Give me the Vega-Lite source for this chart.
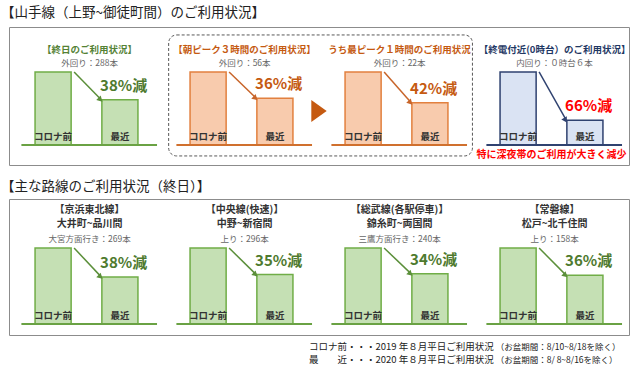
{
  "$schema": "https://vega.github.io/schema/vega-lite/v6.json",
  "background": "white",
  "padding": {"left": 0, "top": 5, "right": 6, "bottom": 2},
  "spacing": 13,
  "config": {
    "font": "Noto Sans CJK JP",
    "view": {"stroke": "#8c8c8c", "strokeWidth": 1},
    "title": {"font": "Noto Sans CJK JP"}
  },
  "datasets": {
    "topBars": [
      {"panel": "p1", "period": "コロナ前", "value": 100},
      {"panel": "p1", "period": "最近", "value": 62},
      {"panel": "p2", "period": "コロナ前", "value": 100},
      {"panel": "p2", "period": "最近", "value": 64},
      {"panel": "p3", "period": "コロナ前", "value": 100},
      {"panel": "p3", "period": "最近", "value": 58},
      {"panel": "p4", "period": "コロナ前", "value": 100},
      {"panel": "p4", "period": "最近", "value": 34}
    ],
    "topPanels": [
      {"panel": "p1", "title": "【終日のご利用状況】", "sub": "外回り：288本", "pct": "38%減", "pre": 100, "recent": 62, "note": ""},
      {"panel": "p2", "title": "【朝ピーク３時間のご利用状況】", "sub": "外回り：56本", "pct": "36%減", "pre": 100, "recent": 64, "note": ""},
      {"panel": "p3", "title": "うち最ピーク１時間のご利用状況", "sub": "外回り：22本", "pct": "42%減", "pre": 100, "recent": 58, "note": ""},
      {"panel": "p4", "title": "【終電付近(0時台）のご利用状況】", "sub": "内回り：０時台６本", "pct": "66%減", "pre": 100, "recent": 34, "note": "特に深夜帯のご利用が大きく減少"}
    ],
    "bottomBars": [
      {"panel": "q1", "period": "コロナ前", "value": 100},
      {"panel": "q1", "period": "最近", "value": 62},
      {"panel": "q2", "period": "コロナ前", "value": 100},
      {"panel": "q2", "period": "最近", "value": 65},
      {"panel": "q3", "period": "コロナ前", "value": 100},
      {"panel": "q3", "period": "最近", "value": 66},
      {"panel": "q4", "period": "コロナ前", "value": 100},
      {"panel": "q4", "period": "最近", "value": 64}
    ],
    "bottomPanels": [
      {"panel": "q1", "line1": "【京浜東北線】", "line2": "大井町~品川間", "sub": "大宮方面行き：269本", "pct": "38%減", "pre": 100, "recent": 62},
      {"panel": "q2", "line1": "【中央線(快速)】", "line2": "中野~新宿間", "sub": "上り：296本", "pct": "35%減", "pre": 100, "recent": 65},
      {"panel": "q3", "line1": "【総武線(各駅停車)】", "line2": "錦糸町~両国間", "sub": "三鷹方面行き：240本", "pct": "34%減", "pre": 100, "recent": 66},
      {"panel": "q4", "line1": "【常磐線】", "line2": "松戸~北千住間", "sub": "上り：158本", "pct": "36%減", "pre": 100, "recent": 64}
    ],
    "footer": [
      {"text": "コロナ前・・・2019 年８月平日ご利用状況\n最　　近・・・2020 年８月平日ご利用状況", "note": "（お盆期間：8/10~8/18を除く）\n（お盆期間：8/ 8~8/16を除く）"}
    ]
  },
  "vconcat": [
    {
      "width": 620,
      "height": 138,
      "title": {"text": "【山手線（上野~御徒町間）のご利用状況】", "anchor": "start", "fontSize": 13.5, "fontWeight": "normal", "color": "#222222", "offset": 8, "dx": -8},
      "layer": [
        {
          "data": {"values": [{"group": "peak"}]},
          "mark": {"type": "rect", "fill": "transparent", "stroke": "#595959", "strokeDash": [3, 2], "strokeWidth": 1, "cornerRadius": 8},
          "encoding": {
            "x": {"datum": "p2", "type": "nominal", "bandPosition": 0.03, "scale": {"domain": ["p1", "p2", "p3", "p4"], "paddingInner": 0, "paddingOuter": 0}, "axis": null},
            "x2": {"datum": "p3", "bandPosition": 0.99},
            "y": {"datum": 150.7, "type": "quantitative", "scale": {"domain": [-27.4, 161.6], "nice": false, "zero": false}, "axis": null},
            "y2": {"datum": -15}
          }
        },
        {
          "data": {"name": "topBars"},
          "mark": {"type": "bar", "strokeWidth": 1.5},
          "encoding": {
            "x": {"field": "panel", "type": "nominal"},
            "xOffset": {"field": "period", "type": "nominal", "scale": {"domain": ["コロナ前", "最近"], "paddingInner": 0.46, "paddingOuter": 0.39}},
            "y": {"field": "value", "type": "quantitative"},
            "y2": {"datum": 0},
            "fill": {"field": "panel", "type": "nominal", "scale": {"domain": ["p1", "p2", "p3", "p4"], "range": ["#c5e0b4", "#f8cbad", "#f8cbad", "#dae3f3"]}, "legend": null},
            "stroke": {"field": "panel", "type": "nominal", "scale": {"domain": ["p1", "p2", "p3", "p4"], "range": ["#70ad47", "#e2803f", "#e2803f", "#2f4270"]}, "legend": null}
          }
        },
        {
          "data": {"name": "topPanels"},
          "mark": {"type": "rule", "strokeWidth": 2},
          "encoding": {
            "x": {"field": "panel", "type": "nominal", "bandPosition": 0.08},
            "x2": {"field": "panel", "bandPosition": 0.955},
            "y": {"datum": 0, "type": "quantitative"},
            "stroke": {"field": "panel", "type": "nominal", "scale": {"domain": ["p1", "p2", "p3", "p4"], "range": ["#6aa244", "#d0702e", "#d0702e", "#2f4270"]}, "legend": null}
          }
        },
        {
          "data": {"name": "topPanels"},
          "mark": {"type": "rule", "strokeWidth": 1.5},
          "encoding": {
            "x": {"field": "panel", "type": "nominal", "bandPosition": 0.42},
            "x2": {"field": "panel", "bandPosition": 0.595},
            "y": {"field": "pre", "type": "quantitative"},
            "y2": {"field": "recent"},
            "stroke": {"field": "panel", "type": "nominal", "scale": {"domain": ["p1", "p2", "p3", "p4"], "range": ["#5b8f3a", "#c8652a", "#c8652a", "#2f4270"]}, "legend": null}
          }
        },
        {
          "data": {"name": "topPanels"},
          "mark": {"type": "point", "shape": "triangle-right", "filled": true, "opacity": 1, "size": 40},
          "encoding": {
            "x": {"field": "panel", "type": "nominal", "bandPosition": 0.59},
            "y": {"field": "recent", "type": "quantitative"},
            "angle": {"field": "recent", "type": "quantitative", "scale": {"domain": [34, 66], "range": [60, 42]}, "legend": null},
            "color": {"field": "panel", "type": "nominal", "scale": {"domain": ["p1", "p2", "p3", "p4"], "range": ["#5b8f3a", "#c8652a", "#c8652a", "#2f4270"]}, "legend": null}
          }
        },
        {
          "data": {"name": "topPanels"},
          "mark": {"type": "text", "fontSize": 15, "fontWeight": "bold", "dy": -14},
          "encoding": {
            "x": {"field": "panel", "type": "nominal", "bandPosition": 0.74},
            "y": {"field": "recent", "type": "quantitative"},
            "text": {"field": "pct"},
            "color": {"field": "panel", "type": "nominal", "scale": {"domain": ["p1", "p2", "p3", "p4"], "range": ["#4e7a2e", "#c55a11", "#c55a11", "#ff0000"]}, "legend": null}
          }
        },
        {
          "data": {"name": "topBars"},
          "mark": {"type": "text", "fontSize": 9.5, "fontWeight": "bold", "color": "#333333", "dy": -8},
          "encoding": {
            "x": {"field": "panel", "type": "nominal"},
            "xOffset": {"field": "period", "type": "nominal"},
            "y": {"datum": 0, "type": "quantitative"},
            "text": {"field": "period"}
          }
        },
        {
          "data": {"name": "topPanels"},
          "mark": {"type": "text", "fontSize": 9.5, "fontWeight": "bold"},
          "encoding": {
            "x": {"field": "panel", "type": "nominal", "bandPosition": 0.52},
            "y": {"datum": 130.5, "type": "quantitative"},
            "text": {"field": "title"},
            "color": {"field": "panel", "type": "nominal", "scale": {"domain": ["p1", "p2", "p3", "p4"], "range": ["#548235", "#c55a11", "#c55a11", "#1f3864"]}, "legend": null}
          }
        },
        {
          "data": {"name": "topPanels"},
          "mark": {"type": "text", "fontSize": 8.5, "color": "#666666"},
          "encoding": {
            "x": {"field": "panel", "type": "nominal", "bandPosition": 0.52},
            "y": {"datum": 112.5, "type": "quantitative"},
            "text": {"field": "sub"}
          }
        },
        {
          "data": {"name": "topPanels"},
          "mark": {"type": "text", "fontSize": 10, "fontWeight": "bold", "color": "#ff0000"},
          "encoding": {
            "x": {"field": "panel", "type": "nominal", "bandPosition": 0.5},
            "y": {"datum": -13.7, "type": "quantitative"},
            "text": {"field": "note"}
          }
        },
        {
          "data": {"values": [{"marker": "next"}]},
          "mark": {"type": "point", "shape": "M-0.7,-1L0.7,0L-0.7,1Z", "filled": true, "opacity": 1, "size": 484, "color": "#c55a11"},
          "encoding": {
            "x": {"datum": "p3", "type": "nominal", "bandPosition": 0},
            "y": {"datum": 46.6, "type": "quantitative"}
          }
        }
      ],
      "resolve": {"scale": {"fill": "independent", "stroke": "independent", "color": "independent", "angle": "independent"}}
    },
    {
      "width": 620,
      "height": 136,
      "title": {"text": "【主な路線のご利用状況（終日）】", "anchor": "start", "fontSize": 13.5, "fontWeight": "normal", "color": "#222222", "offset": 6, "dx": -8},
      "layer": [
        {
          "data": {"name": "bottomBars"},
          "mark": {"type": "bar", "strokeWidth": 1.5, "fill": "#c5e0b4", "stroke": "#70ad47"},
          "encoding": {
            "x": {"field": "panel", "type": "nominal", "scale": {"domain": ["q1", "q2", "q3", "q4"], "paddingInner": 0, "paddingOuter": 0}, "axis": null},
            "xOffset": {"field": "period", "type": "nominal", "scale": {"domain": ["コロナ前", "最近"], "paddingInner": 0.46, "paddingOuter": 0.39}},
            "y": {"field": "value", "type": "quantitative", "scale": {"domain": [-14.5, 164.5], "nice": false, "zero": false}, "axis": null},
            "y2": {"datum": 0}
          }
        },
        {
          "data": {"name": "bottomPanels"},
          "mark": {"type": "rule", "strokeWidth": 2, "stroke": "#6aa244"},
          "encoding": {
            "x": {"field": "panel", "type": "nominal", "bandPosition": 0.08},
            "x2": {"field": "panel", "bandPosition": 0.955},
            "y": {"datum": 0, "type": "quantitative"}
          }
        },
        {
          "data": {"name": "bottomPanels"},
          "mark": {"type": "rule", "strokeWidth": 1.5, "stroke": "#5b8f3a"},
          "encoding": {
            "x": {"field": "panel", "type": "nominal", "bandPosition": 0.42},
            "x2": {"field": "panel", "bandPosition": 0.595},
            "y": {"field": "pre", "type": "quantitative"},
            "y2": {"field": "recent"}
          }
        },
        {
          "data": {"name": "bottomPanels"},
          "mark": {"type": "point", "shape": "triangle-right", "filled": true, "opacity": 1, "size": 40, "color": "#5b8f3a"},
          "encoding": {
            "x": {"field": "panel", "type": "nominal", "bandPosition": 0.59},
            "y": {"field": "recent", "type": "quantitative"},
            "angle": {"field": "recent", "type": "quantitative", "scale": {"domain": [34, 66], "range": [60, 42]}, "legend": null}
          }
        },
        {
          "data": {"name": "bottomPanels"},
          "mark": {"type": "text", "fontSize": 15, "fontWeight": "bold", "dy": -14, "color": "#4e7a2e"},
          "encoding": {
            "x": {"field": "panel", "type": "nominal", "bandPosition": 0.74},
            "y": {"field": "recent", "type": "quantitative"},
            "text": {"field": "pct"}
          }
        },
        {
          "data": {"name": "bottomBars"},
          "mark": {"type": "text", "fontSize": 9.5, "fontWeight": "bold", "color": "#333333", "dy": -8},
          "encoding": {
            "x": {"field": "panel", "type": "nominal"},
            "xOffset": {"field": "period", "type": "nominal"},
            "y": {"datum": 0, "type": "quantitative"},
            "text": {"field": "period"}
          }
        },
        {
          "data": {"name": "bottomPanels"},
          "mark": {"type": "text", "fontSize": 10, "fontWeight": "bold", "color": "#333333"},
          "encoding": {
            "x": {"field": "panel", "type": "nominal", "bandPosition": 0.52},
            "y": {"datum": 150.5, "type": "quantitative"},
            "text": {"field": "line1"}
          }
        },
        {
          "data": {"name": "bottomPanels"},
          "mark": {"type": "text", "fontSize": 10, "fontWeight": "bold", "color": "#333333"},
          "encoding": {
            "x": {"field": "panel", "type": "nominal", "bandPosition": 0.52},
            "y": {"datum": 131, "type": "quantitative"},
            "text": {"field": "line2"}
          }
        },
        {
          "data": {"name": "bottomPanels"},
          "mark": {"type": "text", "fontSize": 8.5, "color": "#666666"},
          "encoding": {
            "x": {"field": "panel", "type": "nominal", "bandPosition": 0.52},
            "y": {"datum": 112.5, "type": "quantitative"},
            "text": {"field": "sub"}
          }
        },
        {
          "data": {"name": "footer"},
          "mark": {"type": "text", "fontSize": 9.5, "color": "#222222", "align": "left", "baseline": "top", "lineBreak": "\n", "lineHeight": 13},
          "encoding": {
            "x": {"datum": "q2", "type": "nominal", "bandPosition": 0.935},
            "y": {"datum": -23.7, "type": "quantitative"},
            "text": {"field": "text"}
          }
        },
        {
          "data": {"name": "footer"},
          "mark": {"type": "text", "fontSize": 8.5, "color": "#222222", "align": "left", "baseline": "top", "lineBreak": "\n", "lineHeight": 13},
          "encoding": {
            "x": {"datum": "q4", "type": "nominal", "bandPosition": 0.14},
            "y": {"datum": -24.5, "type": "quantitative"},
            "text": {"field": "note"}
          }
        }
      ]
    }
  ]
}
